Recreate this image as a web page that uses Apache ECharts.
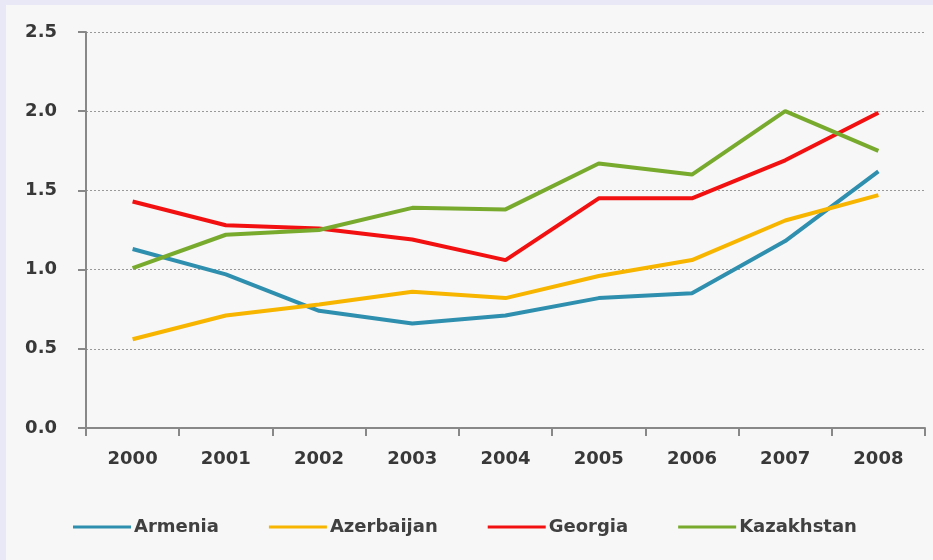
<!DOCTYPE html>
<html>
<head>
<meta charset="UTF-8">
<title>Chart</title>
<script src="https://cdn.jsdelivr.net/npm/echarts@6/dist/echarts.min.js"></script>
<style>
  html, body { margin: 0; padding: 0; background: #e8e8f6; }
  #main { width: 933px; height: 560px; }
</style>
</head>
<body>
<div id="main"></div>
<script>
var years = ['2000', '2001', '2002', '2003', '2004', '2005', '2006', '2007', '2008'];
var armenia    = [1.13, 0.97, 0.74, 0.66, 0.71, 0.82, 0.85, 1.18, 1.62];
var azerbaijan = [0.56, 0.71, 0.78, 0.86, 0.82, 0.96, 1.06, 1.31, 1.47];
var georgia    = [1.43, 1.28, 1.26, 1.19, 1.06, 1.45, 1.45, 1.69, 1.99];
var kazakhstan = [1.01, 1.22, 1.25, 1.39, 1.38, 1.67, 1.60, 2.00, 1.75];

var names = ['Armenia', 'Azerbaijan', 'Georgia', 'Kazakhstan'];
var colors = ['#2f8fae', '#f7b500', '#f21010', '#78aa2e'];
var values = [armenia, azerbaijan, georgia, kazakhstan];

var myChart = echarts.init(document.getElementById('main'));

var series = [];
for (var i = 0; i < names.length; i++) {
  series.push({
    name: names[i],
    type: 'line',
    data: values[i],
    symbol: 'none',
    lineStyle: { width: 4, color: colors[i] },
    itemStyle: { color: colors[i] }
  });
}

var option = {
  backgroundColor: '#e8e8f6',
  animation: false,
  graphic: [{
    type: 'rect',
    left: 6, top: 5,
    shape: { width: 927, height: 555 },
    style: { fill: '#f7f7f7' },
    z: -10
  }],
  color: colors,
  grid: { left: 86, right: 8, top: 32, bottom: 132 },
  legend: {
    data: names,
    bottom: 19,
    left: 68,
    itemWidth: 58,
    itemHeight: 3,
    itemGap: 50,
    icon: 'rect',
    textStyle: { fontFamily: 'DejaVu Sans', fontWeight: 'bold', fontSize: 18, color: '#404040', padding: [0, 0, 0, -2] }
  },
  xAxis: {
    type: 'category',
    data: years,
    boundaryGap: true,
    axisLine: { lineStyle: { color: '#888', width: 2 } },
    axisTick: { show: true, length: 8, lineStyle: { color: '#888', width: 2 } },
    axisLabel: { fontFamily: 'DejaVu Sans', fontWeight: 'bold', fontSize: 18, color: '#383838', margin: 22 }
  },
  yAxis: {
    type: 'value',
    min: 0, max: 2.5, interval: 0.5,
    axisLine: { show: true, lineStyle: { color: '#888', width: 2 } },
    axisTick: { show: true, length: 8, lineStyle: { color: '#888', width: 2 } },
    axisLabel: {
      fontFamily: 'DejaVu Sans', fontWeight: 'bold', fontSize: 18, color: '#383838', margin: 29,
      formatter: function (v) { return v.toFixed(1); }
    },
    splitLine: { lineStyle: { color: '#999', type: [2, 2], width: 1 } }
  },
  series: series
};

myChart.setOption(option);
</script>
</body>
</html>
